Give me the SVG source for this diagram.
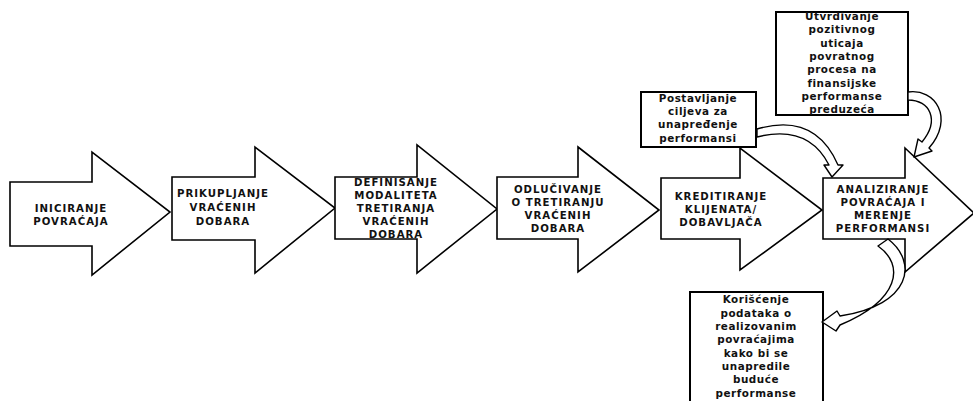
<svg xmlns="http://www.w3.org/2000/svg" width="973" height="401" viewBox="0 0 973 401">
  <style>
    .step { fill: #fff; stroke: #000; stroke-width: 1.6; stroke-linejoin: miter; }
    .box { fill: #fff; stroke: #000; stroke-width: 2; }
    .bend { fill: #fff; stroke: #000; stroke-width: 1.4; stroke-linejoin: round; }
    .cap { font-family: "DejaVu Sans", "Liberation Sans", sans-serif; font-weight: bold; font-size: 10.2px; letter-spacing: 1px; text-anchor: middle; fill: #111; }
    .low { font-family: "DejaVu Sans", "Liberation Sans", sans-serif; font-weight: bold; font-size: 10.4px; letter-spacing: 0.55px; text-anchor: middle; fill: #111; }
  </style>
  <rect width="973" height="401" fill="#fff"/>

  <!-- process steps (block arrows) -->
  <g id="step1">
    <polygon class="step" points="10,182 92,182 92,152 170,212 92,275 92,246 10,246"/>
    <text class="cap" x="71" y="212">INICIRANJE</text>
    <text class="cap" x="71" y="225">POVRAĆAJA</text>
  </g>
  <g id="step2">
    <polygon class="step" points="172,177 255,177 255,147 335,208 255,273 255,240 172,240"/>
    <text class="cap" x="223" y="197">PRIKUPLJANJE</text>
    <text class="cap" x="223" y="211">VRAĆENIH</text>
    <text class="cap" x="223" y="225">DOBARA</text>
  </g>
  <g id="step3">
    <polygon class="step" points="335,177 417,177 417,145 497,209 417,273 417,239 335,239"/>
    <text class="cap" x="396" y="186">DEFINISANJE</text>
    <text class="cap" x="396" y="199">MODALITETA</text>
    <text class="cap" x="396" y="212">TRETIRANJA</text>
    <text class="cap" x="396" y="225">VRAĆENIH</text>
    <text class="cap" x="396" y="238">DOBARA</text>
  </g>
  <g id="step4">
    <polygon class="step" points="497,177 578,177 578,147 659,210 578,272 578,239 497,239"/>
    <text class="cap" x="558" y="193">ODLUČIVANJE</text>
    <text class="cap" x="558" y="206">O TRETIRANJU</text>
    <text class="cap" x="558" y="219">VRAĆENIH</text>
    <text class="cap" x="558" y="232">DOBARA</text>
  </g>
  <g id="step5">
    <polygon class="step" points="661,178 740,178 740,148 822,210 740,270 740,239 661,239"/>
    <text class="cap" x="721" y="200">KREDITIRANJE</text>
    <text class="cap" x="721" y="213">KLIJENATA/</text>
    <text class="cap" x="721" y="226">DOBAVLJAČA</text>
  </g>
  <g id="step6">
    <polygon class="step" points="823,178 905,178 905,148 974,213 905,272 905,239 823,239"/>
    <text class="cap" x="883" y="193">ANALIZIRANJE</text>
    <text class="cap" x="883" y="206">POVRAĆAJA I</text>
    <text class="cap" x="883" y="219">MERENJE</text>
    <text class="cap" x="883" y="232">PERFORMANSI</text>
  </g>

  <!-- side notes -->
  <g id="note-goals">
    <rect class="box" x="641" y="92" width="115" height="55"/>
    <text class="low" x="698" y="102">Postavljanje</text>
    <text class="low" x="698" y="115">ciljeva za</text>
    <text class="low" x="698" y="128">unapređenje</text>
    <text class="low" x="698" y="142">performansi</text>
  </g>
  <g id="note-impact">
    <rect class="box" x="776" y="12" width="132" height="103"/>
    <text class="low" x="842" y="20">Utvrdivanje</text>
    <text class="low" x="842" y="33">pozitivnog</text>
    <text class="low" x="842" y="47">uticaja</text>
    <text class="low" x="842" y="60">povratnog</text>
    <text class="low" x="842" y="73">procesa na</text>
    <text class="low" x="842" y="87">finansijske</text>
    <text class="low" x="842" y="100">performanse</text>
    <text class="low" x="842" y="113">preduzeća</text>
  </g>
  <g id="note-data">
    <rect class="box" x="690" y="292" width="133" height="112"/>
    <text class="low" x="756" y="303">Korišćenje</text>
    <text class="low" x="756" y="317">podataka o</text>
    <text class="low" x="756" y="330">realizovanim</text>
    <text class="low" x="756" y="343">povraćajima</text>
    <text class="low" x="756" y="357">kako bi se</text>
    <text class="low" x="756" y="370">unapredile</text>
    <text class="low" x="756" y="383">buduće</text>
    <text class="low" x="756" y="397">performanse</text>
  </g>

  <!-- curved connectors -->
  <g id="connectors">
    <path class="bend" d="M757,129 Q815,112 838,165 L843,165 L832,177 L824,165 L829,165 Q808,124 757,137 Z"/>
    <path class="bend" d="M908,92 C935,88 955,118 929,148 L932,151 L914,157 L918,139 L922,142 C940,120 930,100 908,100 Z"/>
    <path class="bend" d="M888,239 C918,262 912,305 840,316 L837,311 L822,322 L836,331 L840,325 C900,300 905,265 878,246 Z"/>
  </g>
</svg>
